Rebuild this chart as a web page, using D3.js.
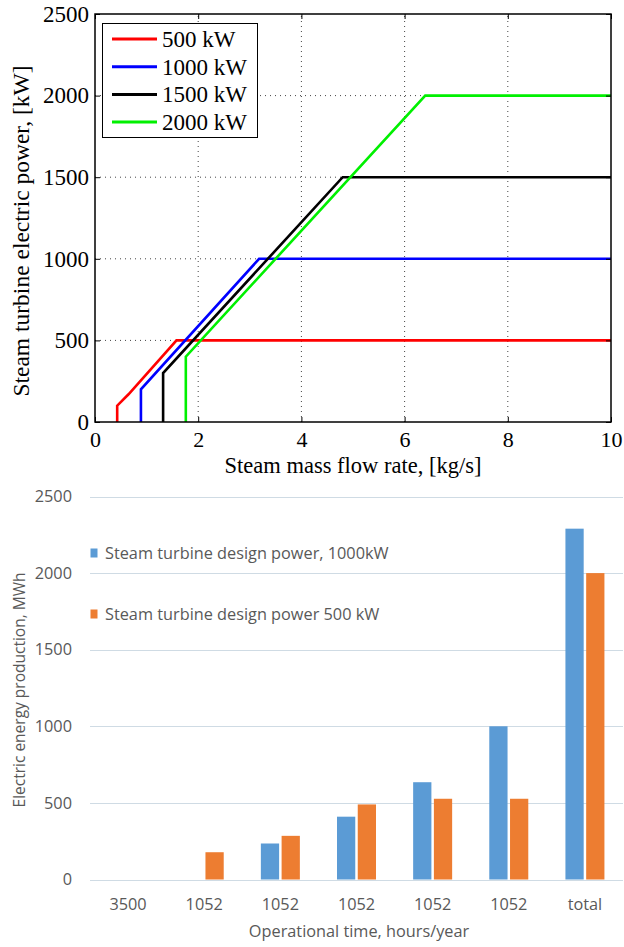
<!DOCTYPE html>
<html>
<head>
<meta charset="utf-8">
<script src="https://cdn.jsdelivr.net/npm/d3@7"></script>
<style>
  html, body { margin: 0; padding: 0; background: #fff; }
  svg { display: block; }
</style>
</head>
<body>
<svg id="fig" width="624" height="947"></svg>
<script>
// ---- Upper panel: turbine power vs. steam mass flow ----
const designLabels = ["500 kW", "1000 kW", "1500 kW", "2000 kW"];
const designColors = ["#ff0000", "#0000ff", "#000000", "#00f000"];

const flow500  = [0.43, 0.43, 0.65, 1.58, 10];
const power500 = [0, 100, 170, 500, 500];
const flow1000  = [0.89, 0.89, 3.18, 10];
const power1000 = [0, 200, 1000, 1000];
const flow1500  = [1.32, 1.32, 4.80, 10];
const power1500 = [0, 300, 1500, 1500];
const flow2000  = [1.76, 1.76, 6.40, 10];
const power2000 = [0, 400, 2000, 2000];

const flowTicks  = [0, 2, 4, 6, 8, 10];
const powerTicks = [0, 500, 1000, 1500, 2000, 2500];

// ---- Lower panel: annual electric energy production ----
const hoursLabels = ["3500", "1052", "1052", "1052", "1052", "1052", "total"];
const energy1000 = [0, 0, 235, 410, 635, 1000, 2290];
const energy500  = [0, 178, 285, 490, 527, 527, 2000];
const energyTicks = [0, 500, 1000, 1500, 2000, 2500];
const energySeries = ["Steam turbine design power, 1000kW", "Steam turbine design power 500 kW"];
const energyColors = ["#5b9bd5", "#ed7d31"];

const svg = d3.select("#fig");

// ================= upper panel =================
{
  const x = d3.scaleLinear().domain([0, 10]).range([95, 611]);
  const y = d3.scaleLinear().domain([0, 2500]).range([422, 14]);
  const serif = "'Liberation Serif', 'Times New Roman', serif";
  const g = svg.append("g");

  // dotted grid
  g.append("g").selectAll("line.vx").data(flowTicks.slice(1, -1)).join("line")
    .attr("x1", d => x(d)).attr("x2", d => x(d)).attr("y1", y(0)).attr("y2", y(2500))
    .attr("stroke", "#444").attr("stroke-width", 1).attr("stroke-dasharray", "1,4");
  g.append("g").selectAll("line.hy").data(powerTicks.slice(1, -1)).join("line")
    .attr("x1", x(0)).attr("x2", x(10)).attr("y1", d => y(d)).attr("y2", d => y(d))
    .attr("stroke", "#444").attr("stroke-width", 1).attr("stroke-dasharray", "1,4");

  // curves
  const series = [
    [flow500, power500], [flow1000, power1000], [flow1500, power1500], [flow2000, power2000]
  ];
  const line = d3.line().x(d => x(d[0])).y(d => y(d[1]));
  series.forEach(([fx, py], i) => {
    g.append("path")
      .datum(fx.map((v, k) => [v, py[k]]))
      .attr("d", line)
      .attr("fill", "none")
      .attr("stroke", designColors[i])
      .attr("stroke-width", 2.6)
      .attr("stroke-linejoin", "miter");
  });

  // axes with inward ticks on all four sides
  const fmt = d3.format("d");
  const ax = (gen, tr) => {
    const a = g.append("g").attr("transform", tr).call(gen);
    a.select(".domain").remove();
    a.selectAll("line").attr("stroke", "#000").attr("stroke-width", 1);
    a.selectAll("text").attr("font-family", serif).attr("font-size", 23).attr("fill", "#000");
    return a;
  };
  const bx = ax(d3.axisBottom(x).tickValues(flowTicks).tickFormat(fmt).tickSizeInner(-5).tickSizeOuter(0).tickPadding(9), `translate(0,${y(0)})`);
  bx.selectAll("text").attr("font-size", 22).attr("dy", "0.71em");
  const tx = ax(d3.axisTop(x).tickValues(flowTicks).tickSizeInner(-5).tickSizeOuter(0), `translate(0,${y(2500)})`);
  tx.selectAll("text").remove();
  const ly = ax(d3.axisLeft(y).tickValues(powerTicks).tickFormat(fmt).tickSizeInner(-5).tickSizeOuter(0).tickPadding(6), `translate(${x(0)},0)`);
  ly.selectAll("text").attr("x", -6);
  const ry = ax(d3.axisRight(y).tickValues(powerTicks).tickSizeInner(-5).tickSizeOuter(0), `translate(${x(10)},0)`);
  ry.selectAll("text").remove();

  // frame
  g.append("rect").attr("x", x(0)).attr("y", y(2500))
    .attr("width", x(10) - x(0)).attr("height", y(0) - y(2500))
    .attr("fill", "none").attr("stroke", "#000").attr("stroke-width", 1.5);

  // axis titles
  g.append("text").attr("x", (x(0) + x(10)) / 2).attr("y", 473)
    .attr("text-anchor", "middle").attr("font-family", serif).attr("font-size", 22.5)
    .text("Steam mass flow rate, [kg/s]");
  g.append("text").attr("transform", `translate(29,231) rotate(-90)`)
    .attr("text-anchor", "middle").attr("font-family", serif).attr("font-size", 23.5)
    .text("Steam turbine electric power, [kW]");

  // legend
  const lg = g.append("g");
  lg.append("rect").attr("x", 102.5).attr("y", 23.5).attr("width", 155).attr("height", 114)
    .attr("fill", "#fff").attr("stroke", "#000").attr("stroke-width", 1);
  designLabels.forEach((lab, i) => {
    const cy = 39 + i * 27.7;
    lg.append("line").attr("x1", 112).attr("x2", 157).attr("y1", cy).attr("y2", cy)
      .attr("stroke", designColors[i]).attr("stroke-width", 3);
    lg.append("text").attr("x", 162).attr("y", cy + 8).attr("font-family", serif)
      .attr("font-size", 23).text(lab);
  });
}

// ================= lower panel =================
{
  const sans = "'Open Sans', 'Noto Sans', sans-serif";
  const fs = 16.3;
  const x = d3.scaleBand().domain(d3.range(hoursLabels.length)).range([90, 623]);
  const inner = d3.scaleBand().domain([0, 1]).range([0, 39]).paddingInner(0.12);
  const y = d3.scaleLinear().domain([0, 2500]).range([879.5, 496.5]);
  const g = svg.append("g");

  // horizontal gridlines
  g.append("g").selectAll("line").data(energyTicks).join("line")
    .attr("x1", 90).attr("x2", 623).attr("y1", d => Math.round(y(d)) + 0.5).attr("y2", d => Math.round(y(d)) + 0.5)
    .attr("stroke", "#cfdbe4").attr("stroke-width", 1.2);

  // bars
  const groupOff = (x.bandwidth() - 39) / 2;
  [energy1000, energy500].forEach((vals, s) => {
    g.append("g").selectAll("rect").data(vals).join("rect")
      .attr("x", (d, i) => x(i) + groupOff + inner(s))
      .attr("width", inner.bandwidth())
      .attr("y", d => y(d))
      .attr("height", d => y(0) - y(d))
      .attr("fill", energyColors[s]);
  });

  // y axis labels
  const ay = g.append("g").attr("transform", "translate(90,0)")
    .call(d3.axisLeft(y).tickValues(energyTicks).tickFormat(d3.format("d")).tickSize(0).tickPadding(18));
  ay.select(".domain").remove();
  ay.selectAll("text").attr("font-family", sans).attr("font-size", fs).attr("fill", "#595959");

  // x axis labels
  const axb = g.append("g").attr("transform", `translate(0,${y(0)})`)
    .call(d3.axisBottom(x).tickFormat(i => hoursLabels[i]).tickSize(0).tickPadding(19));
  axb.select(".domain").remove();
  axb.selectAll("text").attr("font-family", sans).attr("font-size", fs).attr("fill", "#595959");

  // axis titles
  g.append("text").attr("x", 359).attr("y", 937).attr("text-anchor", "middle")
    .attr("font-family", sans).attr("font-size", fs).attr("fill", "#595959")
    .text("Operational time, hours/year");
  g.append("text").attr("transform", `translate(25,690) rotate(-90)`)
    .attr("text-anchor", "middle").attr("font-family", sans).attr("font-size", 15.5).attr("fill", "#595959")
    .text("Electric energy production, MWh");

  // legend
  energySeries.forEach((lab, i) => {
    const cy = 553 + i * 61;
    g.append("rect").attr("x", 90.5).attr("y", cy - 4.5).attr("width", 7).attr("height", 9)
      .attr("fill", energyColors[i]);
    g.append("text").attr("x", 105).attr("y", cy + 5.5).attr("font-family", sans)
      .attr("font-size", fs).attr("fill", "#595959").text(lab);
  });
}
</script>
</body>
</html>
